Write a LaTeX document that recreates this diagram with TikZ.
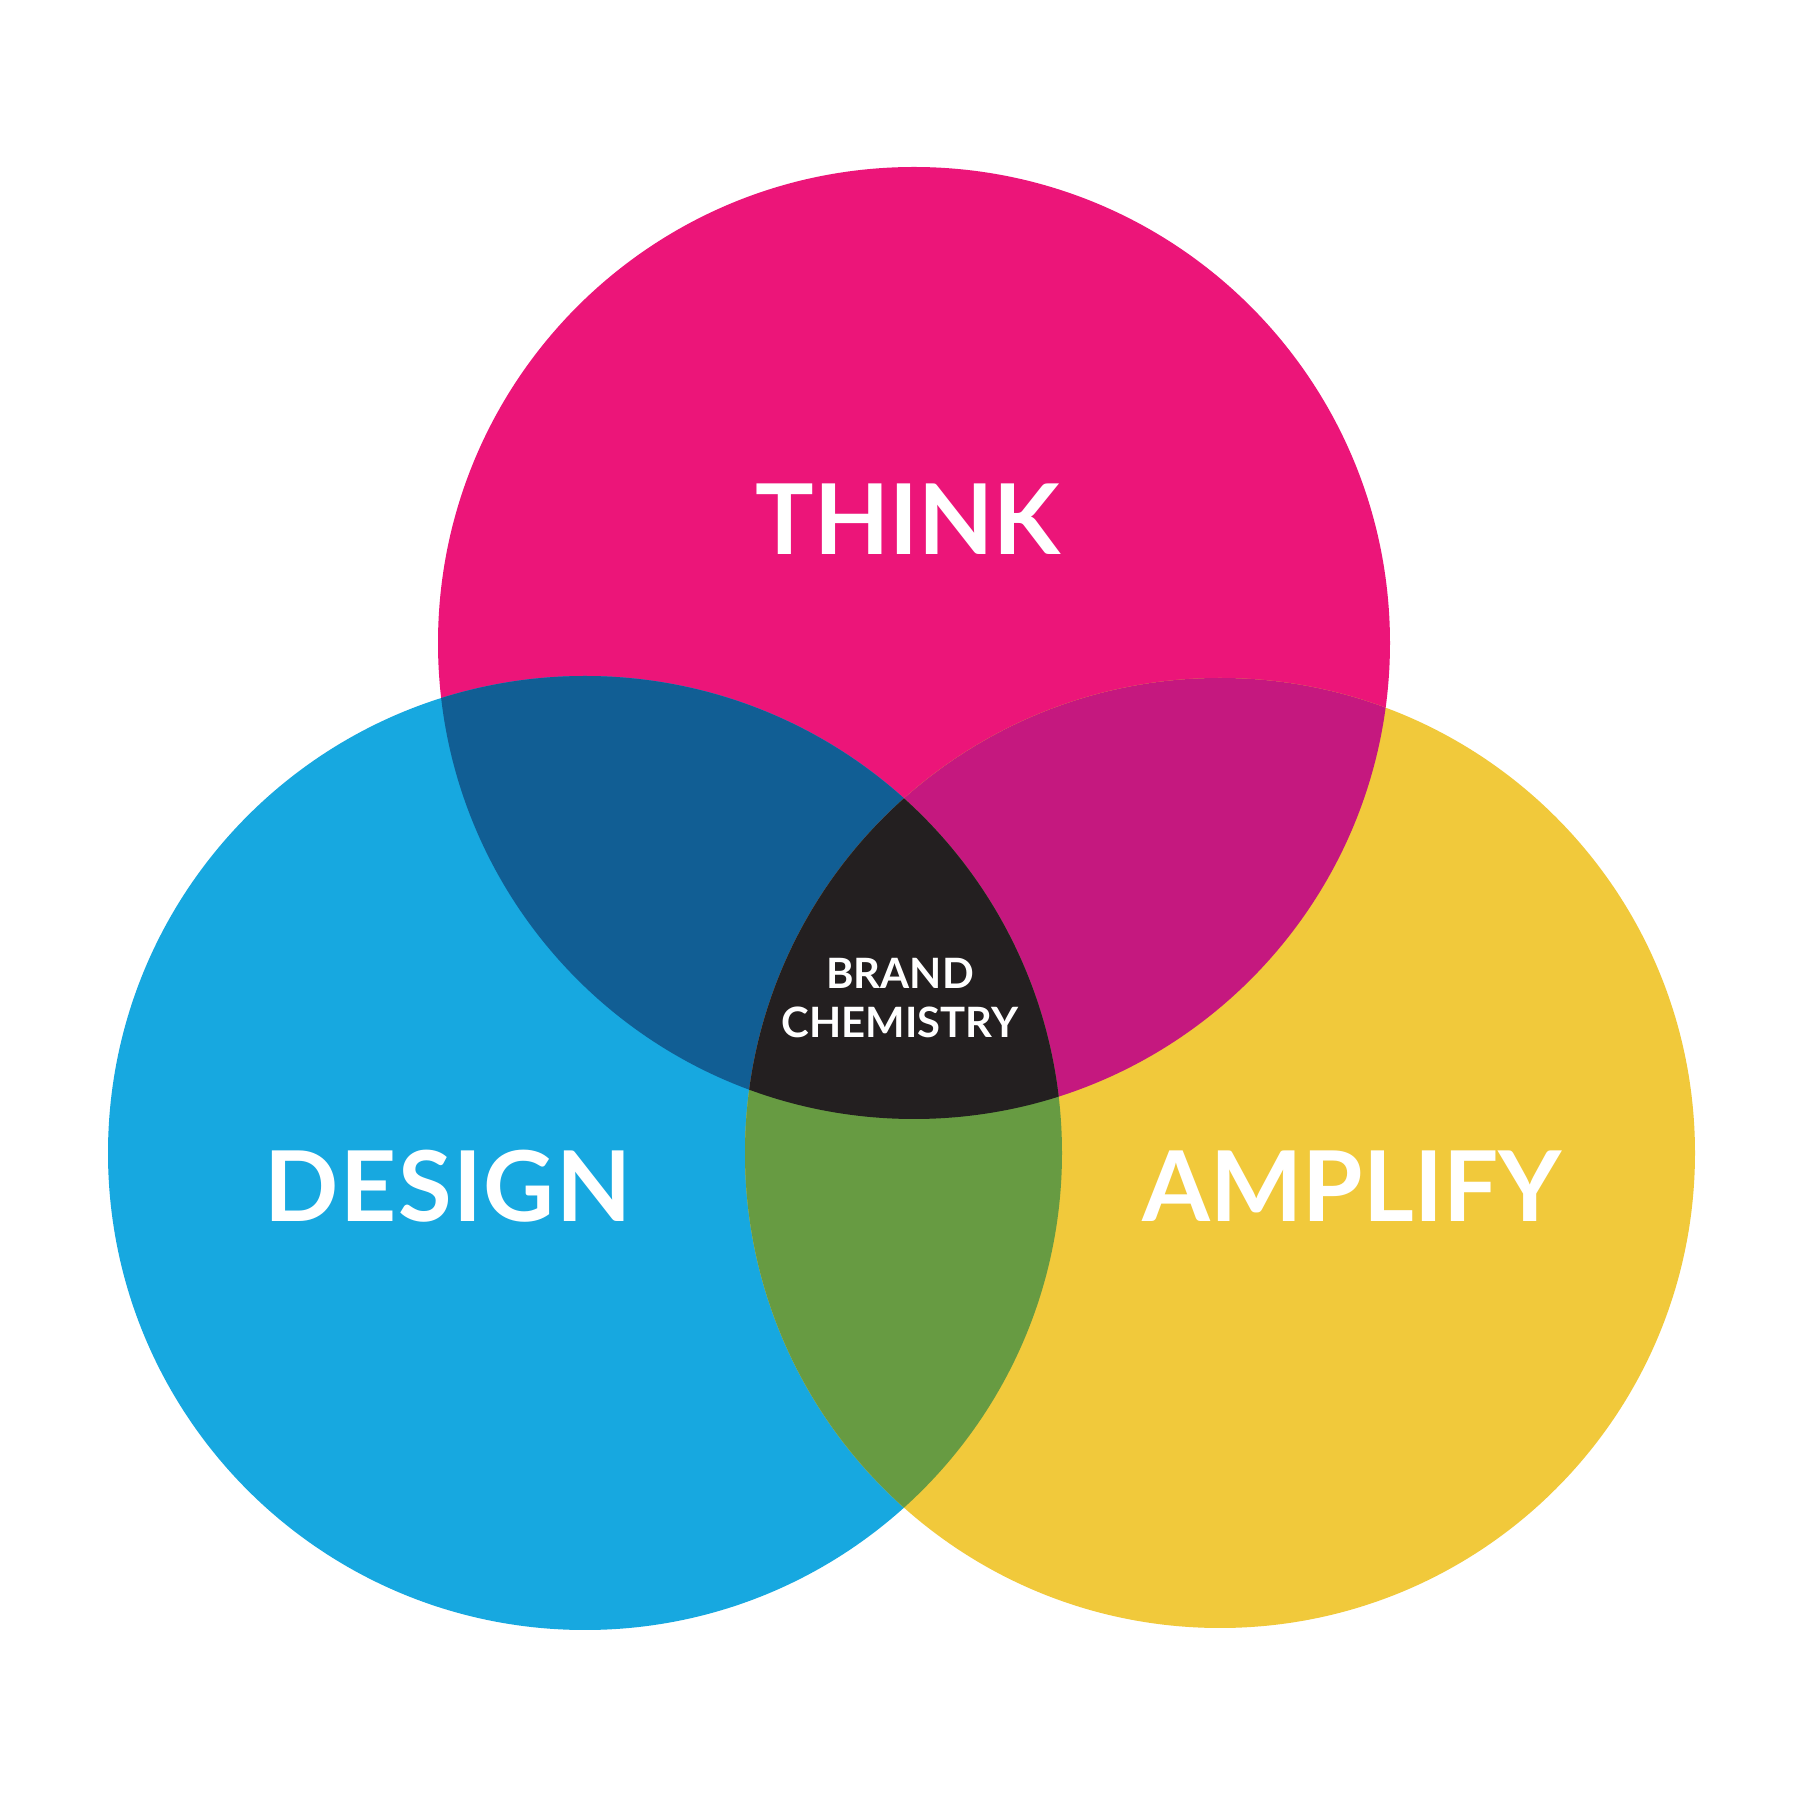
\documentclass[tikz,border=0pt]{standalone}
\usepackage{fontspec}
\setmainfont{Lato}
\newfontfamily\vennfont[LetterSpace=1.5]{Lato}
\newfontfamily\vennwide[LetterSpace=0]{Lato}
\usetikzlibrary{positioning}
\definecolor{thinkpink}{HTML}{EC1579}
\definecolor{designblue}{HTML}{17A8E0}
\definecolor{amplifyyellow}{HTML}{F1C93B}
\definecolor{tdblue}{HTML}{115E94}
\definecolor{tamagenta}{HTML}{C5187F}
\definecolor{dagreen}{HTML}{679B42}
\definecolor{brandblack}{HTML}{231F20}

\begin{document}
\begin{tikzpicture}[
  big/.style={text=white, inner sep=0pt, font=\vennfont\bfseries\fontsize{27.8}{30}\selectfont},
  bigtight/.style={big, font=\vennwide\bfseries\fontsize{27.8}{30}\selectfont},
  small/.style={text=white, inner sep=0pt, align=center, font=\vennwide\bfseries\fontsize{11.9}{13.9}\selectfont}]
\fill[white] (0,0) rectangle (18,18);
\useasboundingbox (0,0) rectangle (18,18);
% the three circles
\fill[thinkpink] (9.14,11.57) circle[radius=4.76];
\fill[designblue] (5.85,6.47) circle[radius=4.77];
\fill[amplifyyellow] (12.20,6.47) circle[radius=4.75];
% overlaps
\begin{scope}
  \clip (9.14,11.57) circle[radius=4.76];
  \fill[tdblue] (5.85,6.47) circle[radius=4.77];
  \fill[tamagenta] (12.20,6.47) circle[radius=4.75];
\end{scope}
\begin{scope}
  \clip (5.85,6.47) circle[radius=4.77];
  \fill[dagreen] (12.20,6.47) circle[radius=4.75];
  \clip (12.20,6.47) circle[radius=4.75];
  \fill[brandblack] (9.14,11.57) circle[radius=4.76];
\end{scope}
% labels
\node[bigtight] (think) at (9.08,12.81) {THINK};
\node[big] (design) at (4.48,6.14) {DESIGN};
\node[bigtight] (amplify) at (13.52,6.14) {AMPLIFY};
\node[small] (brand) at (9.00,8.02) {BRAND\\CHEMISTRY};
\end{tikzpicture}
\end{document}
